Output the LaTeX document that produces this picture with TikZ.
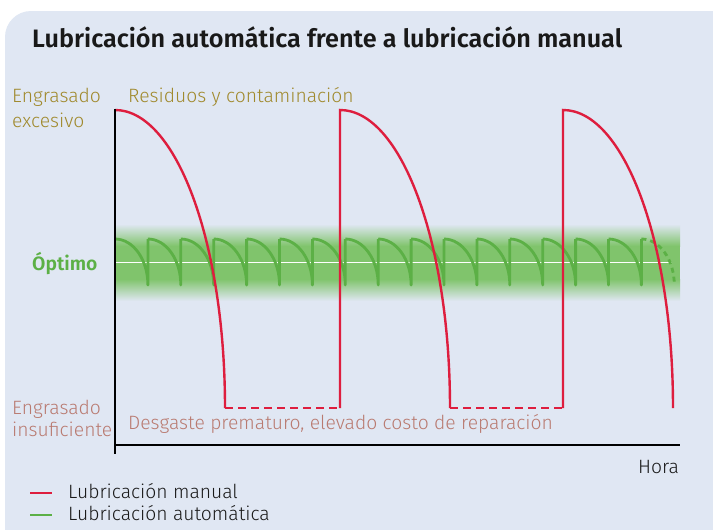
\documentclass[tikz,border=0pt]{standalone}
\usepackage{fontspec}
\setmainfont{Fira Sans Light}[BoldFont=Fira Sans SemiBold]
\newfontfamily\titlefont{Fira Sans SemiBold}
\definecolor{bgblue}{RGB}{224,231,243}
\definecolor{manred}{RGB}{222,30,62}
\definecolor{autogreen}{RGB}{92,176,70}
\definecolor{bandgreen}{RGB}{128,196,108}
\definecolor{olive}{RGB}{160,137,44}
\definecolor{rose}{RGB}{185,122,112}
\tikzset{
  lbl/.style={anchor=base west, inner sep=0pt, font=\fontsize{19.3}{23}\selectfont},
  manual/.style={draw=manred, line width=2.4pt},
  manualdash/.style={manual, dash pattern=on 8pt off 5pt},
  auto/.style={draw=autogreen, line width=2.8pt},
  axis/.style={draw=black, line width=1.4pt},
}
\begin{document}
\begin{tikzpicture}[x=1pt,y=-1pt]
\useasboundingbox (0,0) rectangle (713,530);
\fill[white] (0,0) rectangle (713,530);
\fill[bgblue, rounded corners=26pt] (5,11) rectangle (740,560);
% band
\shade[top color=bgblue, bottom color=bandgreen] (115,224) rectangle (680,246);
\fill[bandgreen] (115,245.5) rectangle (680,279.5);
\shade[top color=bandgreen, bottom color=bgblue] (115,279) rectangle (680,301);
\draw[white, line width=1pt] (115,262) -- (672,262);
% green sawtooth
\foreach \i in {0,...,15}{
  \pgfmathsetmacro{\xa}{115+32.9*\i}
  \pgfmathsetmacro{\xb}{\xa+32.9}
  \draw[auto, line join=round] (\xa,239) .. controls (\xa+18.2,239) and (\xb,259.6) .. (\xb,285) -- (\xb,239);
}
\draw[auto, dash pattern=on 5pt off 4pt] (641.4,239) .. controls (659.6,239) and (674.3,259.6) .. (674.3,285);
% manual curves
\draw[manual] (115,110) .. controls (175.8,110) and (225,241.4) .. (225,408);
\draw[manualdash] (225,408) -- (340,408);
\draw[manual] (340,408) -- (340,110) .. controls (400.8,110) and (450,241.4) .. (450,408);
\draw[manualdash] (450,408) -- (563,408);
\draw[manual] (563,408) -- (563,110) .. controls (623.8,110) and (673,241.4) .. (673,408);
% axes
\coordinate (o) at (115,445);
\coordinate (ytop) at (115,109);
\coordinate (ybot) at (115,454);
\coordinate (xend) at (680,445);
\draw[axis] (ytop) -- (ybot);
\draw[axis] (o) -- (xend);
% texts
\node[anchor=base west, inner sep=0pt, font=\fontsize{25.2}{29}\selectfont\titlefont, text=black!90] (title) at (32,47) {Lubricación automática frente a lubricación manual};
\node[lbl, text=olive] (exc1) at (12,102) {Engrasado};
\node[lbl, text=olive] (exc2) at (12,127) {excesivo};
\node[lbl, text=olive] (resid) at (128,102) {Residuos y contaminación};
\node[lbl, text=autogreen, font=\fontsize{19.3}{23}\selectfont\bfseries] (opt) at (32,270) {Óptimo};
\node[lbl, text=rose] (ins1) at (12,414) {Engrasado};
\node[lbl, text=rose] (ins2) at (12,436) {insuficiente};
\node[lbl, text=rose] (desg) at (128,429) {Desgaste prematuro, elevado costo de reparación};
\node[lbl, text=black!90] (hora) at (638,473) {Hora};
% legend
\coordinate (l1a) at (30,493); \coordinate (l1b) at (52,493);
\coordinate (l2a) at (30,515); \coordinate (l2b) at (52,515);
\draw[manred, line width=1.6pt] (l1a) -- (l1b);
\draw[autogreen, line width=1.6pt] (l2a) -- (l2b);
\node[lbl, text=black!90] (leg1) at (68,498) {Lubricación manual};
\node[lbl, text=black!90] (leg2) at (68,520) {Lubricación automática};
\end{tikzpicture}
\end{document}
